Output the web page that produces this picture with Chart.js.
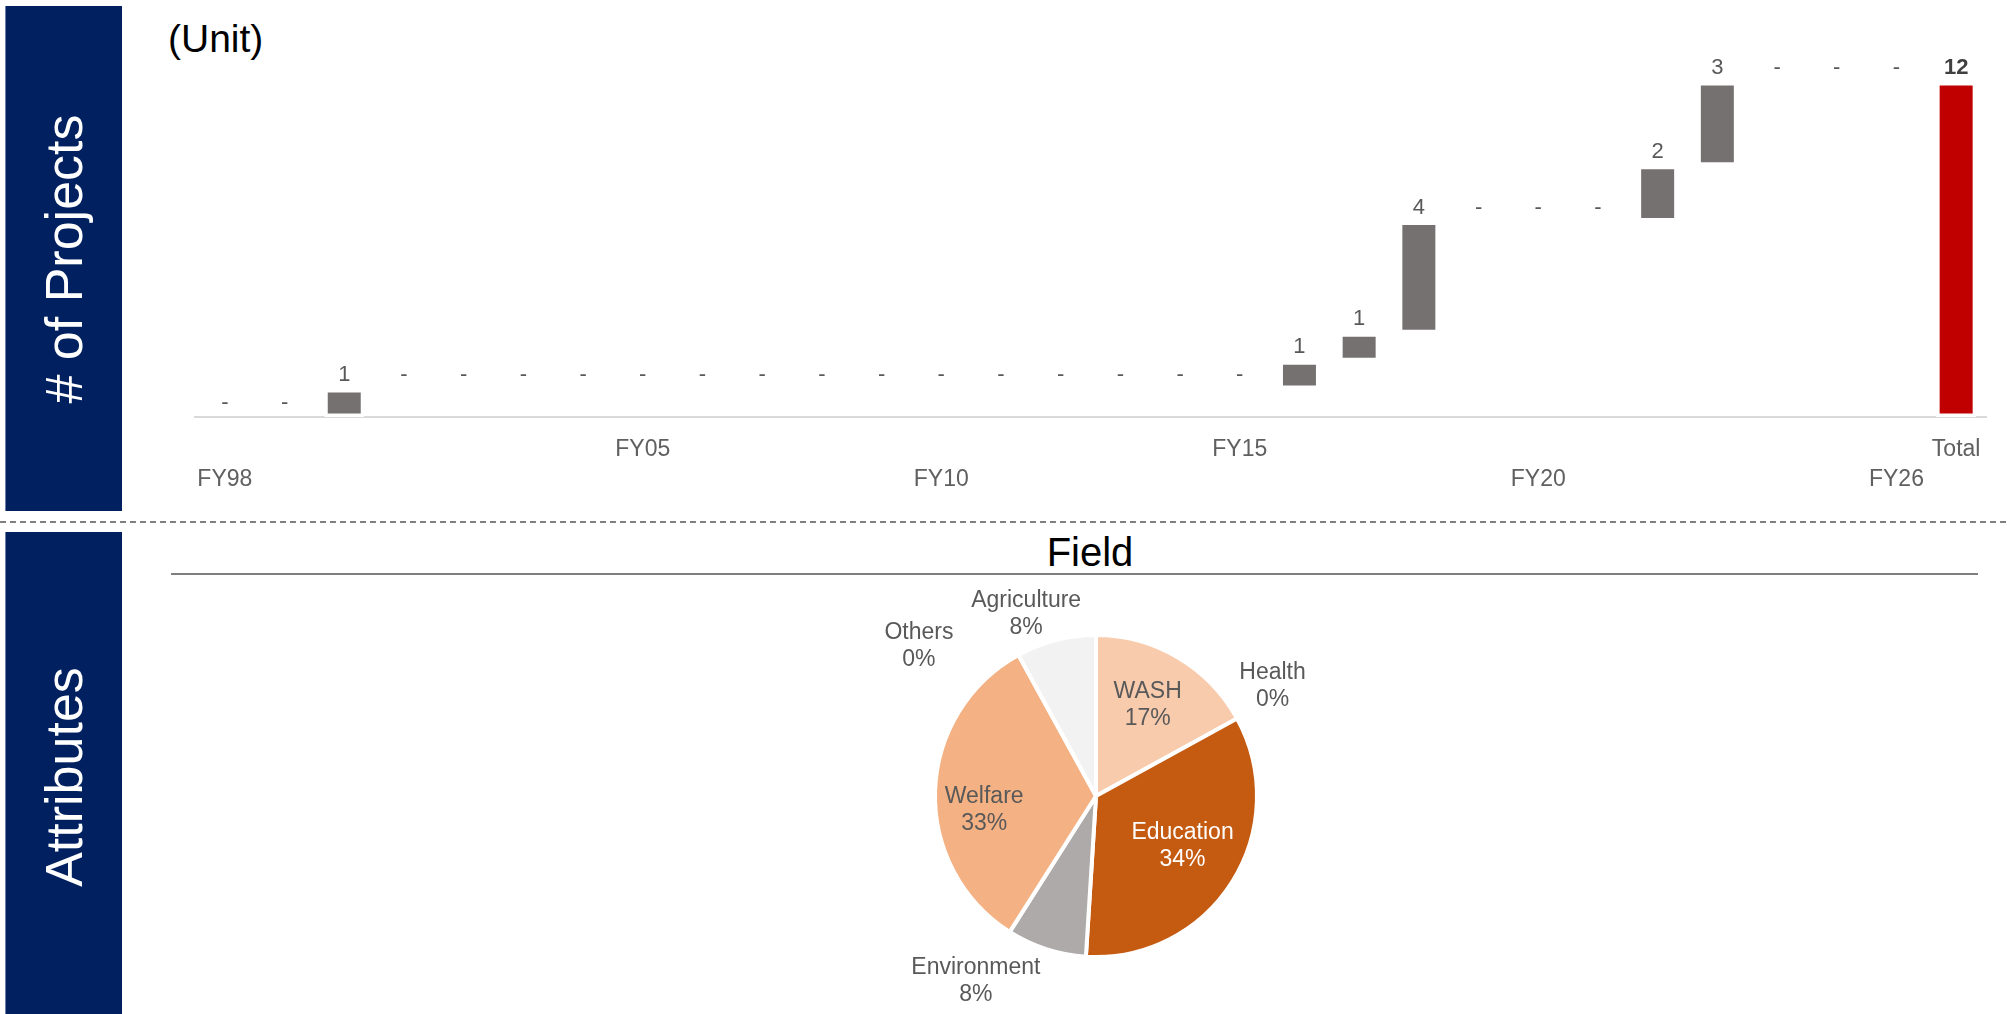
<!DOCTYPE html>
<html>
<head>
<meta charset="utf-8">
<script src="https://cdn.jsdelivr.net/npm/chart.js@4"></script>
<style>
  html, body { margin: 0; padding: 0; background: #ffffff; }
  body { width: 2007px; height: 1014px; position: relative; overflow: hidden; font-family: 'Liberation Sans', Arial, sans-serif; }
  .panel { position: absolute; left: 5px; width: 117px; background: #002060; box-sizing: border-box; border-left: 1px solid #6b7fa8; }
  .vlabel { position: absolute; color: #ffffff; font-size: 52px; line-height: 52px; height: 52px; width: 420px; text-align: center; white-space: nowrap; transform: translate(-50%, -50%) rotate(-90deg); }
  #unit { position: absolute; left: 168px; top: 19px; font-size: 39px; line-height: 39px; color: #000; }
  #fieldTitle { position: absolute; left: 990px; top: 532px; width: 200px; text-align: center; font-size: 40px; line-height: 40px; color: #000; }
  #fieldRule { position: absolute; left: 171px; top: 573px; width: 1807px; height: 2px; background: #7f7f7f; }
  #sep { position: absolute; left: 0; top: 521px; width: 2007px; height: 2px; background: repeating-linear-gradient(to right, #808080 0 6px, transparent 6px 10px); }
  canvas { position: absolute; }
</style>
</head>
<body>
<div class="panel" style="top:6px;height:505px;"></div>
<div class="vlabel" style="left:64px;top:259px;"># of Projects</div>
<div class="panel" style="top:532px;height:482px;"></div>
<div class="vlabel" style="left:64px;top:777px;">Attributes</div>
<div id="unit">(Unit)</div>
<div id="sep"></div>
<div id="fieldTitle">Field</div>
<div id="fieldRule"></div>
<canvas id="bar" width="2007" height="520" style="left:0;top:0;"></canvas>
<canvas id="pie" width="590" height="432" style="left:801px;top:580px;"></canvas>
<script>
// ---------- data ----------
const categories = ['FY98','FY99','FY00','FY01','FY02','FY03','FY04','FY05','FY06','FY07','FY08','FY09','FY10','FY11','FY12','FY13','FY14','FY15','FY16','FY17','FY18','FY19','FY20','FY21','FY22','FY23','FY24','FY25','FY26','Total'];
const increments = [0,0,1,0,0,0,0,0,0,0,0,0,0,0,0,0,0,0,1,1,4,0,0,0,2,3,0,0,0];
const totalProjects = 12;
const tickUpper = ['FY05','FY15','Total'];
const tickLower = ['FY98','FY10','FY20','FY26'];

const fieldLabels = ['WASH','Health','Education','Environment','Welfare','Others','Agriculture'];
const fieldShares = [17,0,34,8,33,0,8];

// ---------- styles ----------
const FONT = "'Liberation Sans', Arial, sans-serif";
const barGrey = '#767171';
const barRed = '#C00000';
const fieldColors = ['#F8CBAD','#FBE5D6','#C55A11','#AEAAAA','#F4B183','#D9D9D9','#F2F2F2'];
const fieldTextColors = ['#595959','#595959','#FFFFFF','#595959','#595959','#595959','#595959'];
// label placement relative to each slice: angle shift (deg, clockwise) and distance as fraction of radius
const fieldLabelPlace = [
  {shift:-1, dist:0.65}, {shift:-3, dist:1.29}, {shift:-2.5, dist:0.62}, {shift:15, dist:1.37},
  {shift:-9, dist:0.70}, {shift:-21, dist:1.44}, {shift:-6.6, dist:1.21}
];

// ---------- waterfall ----------
const floating = [];
const labels = [];
let run = 0;
increments.forEach(v => { floating.push([run, run + v]); labels.push(v === 0 ? '-' : String(v)); run += v; });
floating.push([0, totalProjects]);
labels.push(String(totalProjects));
const barColors = categories.map((c, i) => i === categories.length - 1 ? barRed : barGrey);

const barLabelPlugin = {
  id: 'barLabels',
  afterDatasetsDraw(chart) {
    const ctx = chart.ctx;
    const meta = chart.getDatasetMeta(0);
    const yScale = chart.scales.y;
    ctx.save();
    ctx.textAlign = 'center';
    ctx.textBaseline = 'middle';
    meta.data.forEach((el, i) => {
      const top = yScale.getPixelForValue(floating[i][1]);
      const isTotal = i === categories.length - 1;
      ctx.font = (isTotal ? 'bold ' : '') + '22px ' + FONT;
      ctx.fillStyle = isTotal ? '#404040' : '#595959';
      ctx.fillText(labels[i], el.x, top - 14);
    });
    ctx.restore();
  }
};

new Chart(document.getElementById('bar'), {
  type: 'bar',
  data: {
    labels: categories,
    datasets: [{
      data: floating,
      backgroundColor: barColors,
      borderColor: '#FFFFFF',
      borderWidth: 3.5,
      borderSkipped: false,
      inflateAmount: 0,
      barPercentage: 0.67,
      categoryPercentage: 1
    }]
  },
  options: {
    responsive: false,
    devicePixelRatio: 1,
    animation: false,
    layout: { padding: { left: 195, right: 21, top: 54, bottom: 0 } },
    plugins: { legend: { display: false }, tooltip: { enabled: false } },
    scales: {
      x: {
        grid: { display: false, drawTicks: false },
        border: { display: true, color: '#D9D9D9', width: 2 },
        afterFit: (scale) => { scale.height = 103; },
        ticks: {
          autoSkip: false, maxRotation: 0, minRotation: 0, padding: 18,
          color: '#606060',
          font: { family: FONT, size: 23, lineHeight: 30 / 23 },
          callback: function (value) {
            const name = categories[value];
            if (tickUpper.includes(name)) return [name, ''];
            if (tickLower.includes(name)) return ['', name];
            return '';
          }
        }
      },
      y: { display: false, min: 0, max: 13 }
    }
  },
  plugins: [barLabelPlugin]
});

// ---------- pie ----------
const pieLabelPlugin = {
  id: 'pieLabels',
  afterDatasetsDraw(chart) {
    const ctx = chart.ctx;
    const meta = chart.getDatasetMeta(0);
    ctx.save();
    ctx.font = '23px ' + FONT;
    ctx.textAlign = 'center';
    ctx.textBaseline = 'middle';
    meta.data.forEach((arc, i) => {
      const p = arc.getProps(['x','y','startAngle','endAngle','outerRadius'], true);
      const a = (p.startAngle + p.endAngle) / 2 + fieldLabelPlace[i].shift * Math.PI / 180;
      const d = fieldLabelPlace[i].dist * p.outerRadius;
      const cx = p.x + Math.cos(a) * d;
      const cy = p.y + Math.sin(a) * d;
      ctx.fillStyle = fieldTextColors[i];
      ctx.fillText(fieldLabels[i], cx, cy - 13.5);
      ctx.fillText(fieldShares[i] + '%', cx, cy + 13.5);
    });
    ctx.restore();
  }
};

new Chart(document.getElementById('pie'), {
  type: 'pie',
  data: {
    labels: fieldLabels,
    datasets: [{
      data: fieldShares,
      backgroundColor: fieldColors,
      borderColor: '#FFFFFF',
      borderWidth: 4,
      radius: 161
    }]
  },
  options: {
    responsive: false,
    devicePixelRatio: 1,
    animation: false,
    layout: { padding: 0 },
    plugins: { legend: { display: false }, tooltip: { enabled: false } }
  },
  plugins: [pieLabelPlugin]
});
</script>
</body>
</html>
